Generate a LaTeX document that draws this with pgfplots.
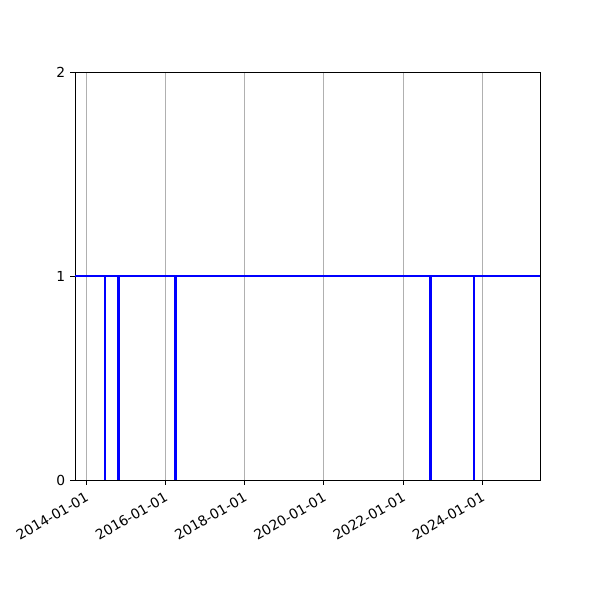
\documentclass[border=0pt]{standalone}
\usepackage{pgfplots}
\pgfplotsset{compat=1.18}
\usepackage{fontspec}
\setmainfont{DejaVu Sans}
\begin{document}
\begin{tikzpicture}
\path[use as bounding box] (0,0) rectangle (6in,6in);
\begin{axis}[
  at={(0.75in,1.2in)}, anchor=south west,
  scale only axis, width=4.65in, height=4.08in,
  xmin=-0.285, xmax=11.457, ymin=0, ymax=2,
  xtick={0,2,4,6,8,10},
  xticklabels={2014-01-01,2016-01-01,2018-01-01,2020-01-01,2022-01-01,2024-01-01},
  xticklabel style={rotate=30, anchor=north east, font=\fontsize{10}{12}\selectfont},
  ytick={0,1,2},
  yticklabel style={font=\fontsize{10}{12}\selectfont},
  /pgf/number format/assume math mode=true,
  xmajorgrids, grid style={color=black!31, line width=0.8pt},
  tick align=outside, major tick length=3.5pt,
  tick style={black, line width=0.7pt},
  axis line style={line width=0.7pt},
  xtick pos=bottom, ytick pos=left,
]
\addplot[blue, line width=1.9pt] coordinates {
(-0.285,1) (0.472,1) (0.472,0) (0.472,1) (0.808,1) (0.808,0) (0.808,1)
(2.247,1) (2.247,0) (2.247,1) (8.697,1) (8.697,0) (8.697,1)
(9.790,1) (9.790,0) (9.790,1) (11.457,1)
};
\end{axis}
\end{tikzpicture}
\end{document}
